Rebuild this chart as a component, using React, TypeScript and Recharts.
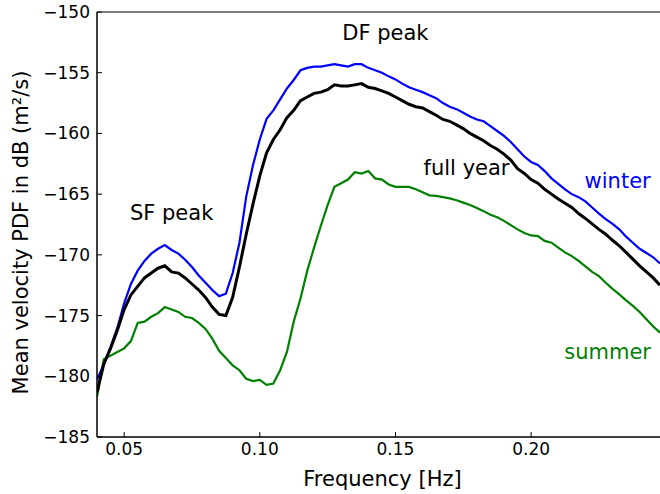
import {
  LineChart,
  Line,
  XAxis,
  YAxis,
  ReferenceLine,
  ReferenceDot,
} from 'recharts';

// frequency grid [Hz]
const freqs = [
  0.04, 0.0425, 0.045, 0.0475, 0.05, 0.0525, 0.055, 0.0575, 0.06, 0.0625,
  0.065, 0.0675, 0.07, 0.0725, 0.075, 0.0775, 0.08, 0.0825, 0.085, 0.0875,
  0.09, 0.0925, 0.095, 0.0975, 0.1, 0.1025, 0.105, 0.1075, 0.11, 0.1125,
  0.115, 0.1175, 0.12, 0.1225, 0.125, 0.1275, 0.13, 0.1325, 0.135, 0.1375,
  0.14, 0.1425, 0.145, 0.1475, 0.15, 0.1525, 0.155, 0.1575, 0.16, 0.1625,
  0.165, 0.1675, 0.17, 0.1725, 0.175, 0.1775, 0.18, 0.1825, 0.185, 0.1875,
  0.19, 0.1925, 0.195, 0.1975, 0.2, 0.2025, 0.205, 0.2075, 0.21, 0.2125,
  0.215, 0.2175, 0.22, 0.2225, 0.225, 0.2275, 0.23, 0.2325, 0.235, 0.2375,
  0.24, 0.2425, 0.245, 0.2475,
];

const winter = [
  -180.3, -179.0, -177.6, -176.0, -174.0, -172.4, -171.3, -170.5, -169.9, -169.5,
  -169.2, -169.6, -169.9, -170.4, -171.0, -171.7, -172.3, -172.9, -173.4, -173.2,
  -171.5, -169.0, -165.2, -162.6, -160.5, -158.8, -158.1, -157.2, -156.3, -155.6,
  -154.8, -154.6, -154.5, -154.5, -154.4, -154.3, -154.4, -154.5, -154.3, -154.3,
  -154.6, -154.8, -155.0, -155.3, -155.55, -155.9, -156.2, -156.4, -156.6, -156.85,
  -157.1, -157.5, -157.8, -158.0, -158.3, -158.6, -158.85, -159.0, -159.4, -159.8,
  -160.2, -160.7, -161.3, -161.9, -162.35, -162.6, -163.1, -163.7, -164.15, -164.6,
  -165.0, -165.25, -165.6, -166.1, -166.6, -167.05, -167.45, -167.9, -168.5, -169.0,
  -169.5, -169.85, -170.2, -170.7,
];

const fullYear = [
  -181.3, -179.0, -177.7, -176.2, -174.5, -173.3, -172.6, -171.9, -171.5, -171.1,
  -170.9, -171.4, -171.5, -171.9, -172.4, -172.9, -173.5, -174.3, -174.9, -175.0,
  -173.5, -171.0, -168.3, -165.8, -163.5, -161.6, -160.5, -159.7, -158.7, -158.1,
  -157.3, -157.0, -156.7, -156.6, -156.4, -156.0, -156.1, -156.1, -156.0, -155.9,
  -156.2, -156.3, -156.5, -156.7, -157.0, -157.3, -157.6, -157.8, -157.9, -158.2,
  -158.5, -158.85, -159.0, -159.3, -159.6, -160.0, -160.3, -160.6, -161.0, -161.3,
  -161.7, -162.2, -162.9, -163.3, -163.8, -164.1, -164.6, -165.0, -165.4, -165.75,
  -166.1, -166.6, -167.0, -167.45, -167.9, -168.3, -168.8, -169.25, -169.8, -170.35,
  -170.9, -171.4, -171.9, -172.5,
];

const summer = [
  -181.7, -178.6, -178.3, -178.0, -177.7, -177.1, -175.6, -175.5, -175.1, -174.8,
  -174.3, -174.5, -174.7, -175.1, -175.2, -175.6, -176.1, -176.9, -177.9, -178.5,
  -179.1, -179.5, -180.2, -180.4, -180.3, -180.7, -180.6, -179.5, -178.0, -175.5,
  -173.6, -171.3, -169.4, -167.6, -165.9, -164.4, -164.1, -163.8, -163.2, -163.3,
  -163.1, -163.7, -163.8, -164.2, -164.4, -164.4, -164.4, -164.6, -164.85, -165.1,
  -165.15, -165.25, -165.35, -165.5, -165.7, -165.9, -166.15, -166.4, -166.7, -166.9,
  -167.2, -167.55, -167.9, -168.2, -168.4, -168.45, -168.85, -169.0, -169.4, -169.8,
  -170.1, -170.5, -170.95, -171.4, -171.75, -172.3, -172.8, -173.25, -173.75, -174.2,
  -174.7, -175.3, -175.9, -176.4,
];

const xTicks = [0.05, 0.1, 0.15, 0.2];
const yTicks = [-185, -180, -175, -170, -165, -160, -155, -150];

const data = freqs.map((f, i) => ({
  f,
  winter: winter[i],
  fullYear: fullYear[i],
  summer: summer[i],
}));

const FONT = '"DejaVu Sans", sans-serif';

const XTick = (props: any) => {
  const { x, y, payload } = props;
  return (
    <g>
      <line x1={x} y1={y} x2={x} y2={y - 5} stroke="#000" strokeWidth={1} />
      <text x={x} y={y + 18} textAnchor="middle" fontSize={17} fontFamily={FONT} fill="#000">
        {payload.value.toFixed(2)}
      </text>
    </g>
  );
};

const YTick = (props: any) => {
  const { x, y, payload } = props;
  return (
    <g>
      <line x1={x} y1={y} x2={x + 5} y2={y} stroke="#000" strokeWidth={1} />
      <text x={x - 7} y={y + 6} textAnchor="end" fontSize={17} fontFamily={FONT} fill="#000">
        {String(payload.value).replace('-', '\u2212')}
      </text>
    </g>
  );
};

const XLabel = (props: any) => {
  const { viewBox } = props;
  const cx = viewBox.x + viewBox.width / 2 + 4;
  return (
    <text x={cx} y={486} textAnchor="middle" fontSize={21} fontFamily={FONT} fill="#000">
      Frequency [Hz]
    </text>
  );
};

const YLabel = (props: any) => {
  const { viewBox } = props;
  const cy = viewBox.y + viewBox.height / 2 + 8;
  return (
    <text
      x={28}
      y={cy}
      transform={`rotate(-90, 28, ${cy})`}
      textAnchor="middle"
      fontSize={21}
      fontFamily={FONT}
      fill="#000"
    >
      Mean velocity PDF in dB (m{'\u00b2'}/s)
    </text>
  );
};

const note = (value: string, fill: string) => ({
  value,
  position: 'center' as const,
  fill,
  fontSize: 21,
  fontFamily: FONT,
});

export default function App() {
  return (
    <div style={{ position: 'absolute', left: 0, top: 0, width: 660, height: 494, background: '#fff' }}>
      <LineChart
        width={660}
        height={494}
        data={data}
        margin={{ top: 12, right: 0, left: 0, bottom: 0 }}
      >
        <XAxis
          dataKey="f"
          type="number"
          domain={[0.04, 0.2475]}
          ticks={xTicks}
          allowDataOverflow
          height={57}
          tickLine={false}
          tickSize={0}
          tickMargin={0}
          tick={<XTick />}
          axisLine={{ stroke: '#000', strokeWidth: 1.5 }}
          label={<XLabel />}
        />
        <YAxis
          type="number"
          domain={[-185, -150]}
          ticks={yTicks}
          allowDataOverflow
          width={97}
          tickLine={false}
          tickSize={0}
          tickMargin={0}
          tick={<YTick />}
          axisLine={{ stroke: '#000', strokeWidth: 1.5 }}
          label={<YLabel />}
        />
        <ReferenceLine y={-150} stroke="#555" strokeWidth={1.5} />
        <Line
          type="linear"
          dataKey="summer"
          stroke="#008000"
          strokeWidth={2.2}
          dot={false}
          isAnimationActive={false}
        />
        <Line
          type="linear"
          dataKey="winter"
          stroke="#0000ff"
          strokeWidth={2.2}
          dot={false}
          isAnimationActive={false}
        />
        <Line
          type="linear"
          dataKey="fullYear"
          stroke="#000000"
          strokeWidth={3}
          dot={false}
          isAnimationActive={false}
        />
        <ReferenceDot x={0.0675} y={-166.55} r={0} stroke="none" label={note('SF peak', '#000')} />
        <ReferenceDot x={0.1463} y={-151.7} r={0} stroke="none" label={note('DF peak', '#000')} />
        <ReferenceDot x={0.1762} y={-162.85} r={0} stroke="none" label={note('full year', '#000')} />
        <ReferenceDot x={0.2319} y={-163.9} r={0} stroke="none" label={note('winter', '#0000ff')} />
        <ReferenceDot x={0.2282} y={-178.0} r={0} stroke="none" label={note('summer', '#008000')} />
      </LineChart>
    </div>
  );
}
